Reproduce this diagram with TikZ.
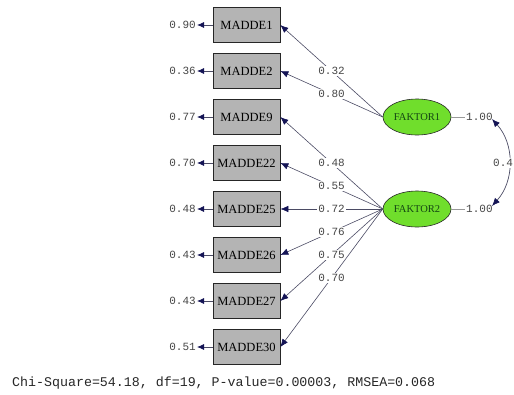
\documentclass[tikz,border=0pt]{standalone}
\usepackage{fontspec}
\setmainfont{Liberation Serif}
\setmonofont{Liberation Mono}
\usetikzlibrary{arrows.meta,shapes.geometric}
\definecolor{boxgray}{RGB}{180,180,180}
\definecolor{facgreen}{RGB}{112,222,44}
\definecolor{factext}{RGB}{20,70,20}
\definecolor{numgray}{RGB}{70,70,70}
\definecolor{linecol}{RGB}{75,75,100}
\definecolor{tipcol}{RGB}{20,20,85}
\tikzset{
  obsbox/.style={draw=black!85, line width=0.7pt, fill=boxgray, minimum width=67pt, minimum height=35pt, inner sep=0pt, font=\fontsize{12.5}{14}\selectfont},
  facnode/.style={ellipse, draw=black!85, line width=0.6pt, fill=facgreen, minimum width=68pt, minimum height=36pt, inner sep=0pt, text=factext, font=\fontsize{10.5}{12}\selectfont},
  numlab/.style={fill=white, inner sep=1pt, text=numgray, font=\ttfamily\fontsize{11}{12}\selectfont},
  loadline/.style={draw=linecol, line width=0.6pt, -{Latex[length=8pt,width=6.5pt,color=tipcol]}},
  errline/.style={draw=linecol, line width=0.8pt, -{Latex[length=7pt,width=6pt,color=tipcol]}},
  varline/.style={draw=gray!80, line width=0.5pt},
  covline/.style={draw=linecol, line width=0.7pt, {Latex[length=8pt,width=6.5pt,color=tipcol]}-{Latex[length=8pt,width=6.5pt,color=tipcol]}}
}
\begin{document}
\begin{tikzpicture}[x=1pt,y=-1pt]
\useasboundingbox (0,0) rectangle (514,394);
% observed variables
\node[obsbox] (m1)  at (246.5,25)  {MADDE1};
\node[obsbox] (m2)  at (246.5,71)  {MADDE2};
\node[obsbox] (m9)  at (246.5,117) {MADDE9};
\node[obsbox] (m22) at (246.5,163) {MADDE22};
\node[obsbox] (m25) at (246.5,209) {MADDE25};
\node[obsbox] (m26) at (246.5,255) {MADDE26};
\node[obsbox] (m27) at (246.5,301) {MADDE27};
\node[obsbox] (m30) at (246.5,347) {MADDE30};
% error variances
\node[numlab, anchor=east] (e1)  at (197,25)  {0.90};
\node[numlab, anchor=east] (e2)  at (197,71)  {0.36};
\node[numlab, anchor=east] (e9)  at (197,117) {0.77};
\node[numlab, anchor=east] (e22) at (197,163) {0.70};
\node[numlab, anchor=east] (e25) at (197,209) {0.48};
\node[numlab, anchor=east] (e26) at (197,255) {0.43};
\node[numlab, anchor=east] (e27) at (197,301) {0.43};
\node[numlab, anchor=east] (e30) at (197,347) {0.51};
\foreach \m in {1,2,9,22,25,26,27,30}{
  \draw[errline] (m\m.west) -- (e\m.east);
}
% factors
\node[facnode] (f1) at (417,117) {FAKTOR1};
\node[facnode] (f2) at (417,209) {FAKTOR2};
% loadings
\draw[loadline] (f1.west) -- node[numlab]{0.32} (m1.east);
\draw[loadline] (f1.west) -- node[numlab]{0.80} (m2.east);
\draw[loadline] (f2.west) -- node[numlab]{0.48} (m9.east);
\draw[loadline] (f2.west) -- node[numlab]{0.55} (m22.east);
\draw[loadline] (f2.west) -- node[numlab]{0.72} (m25.east);
\draw[loadline] (f2.west) -- node[numlab]{0.76} (m26.east);
\draw[loadline] (f2.west) -- node[numlab]{0.75} (m27.east);
\draw[loadline] (f2.west) -- node[numlab]{0.70} (m30.east);
% factor variances
\node[numlab, anchor=west] (v1) at (465,117) {1.00};
\node[numlab, anchor=west] (v2) at (465,209) {1.00};
\draw[varline] (f1.east) -- (v1.west);
\draw[varline] (f2.east) -- (v2.west);
% covariance
\coordinate (c1) at (492,119);
\coordinate (c2) at (492,206);
\draw[covline] (c1) to[bend left=42] (c2);
\node[numlab, anchor=west] (cov) at (492,163) {0.4};
% fit statistics
\node[anchor=west, inner sep=0pt, text=black!85, font=\ttfamily\fontsize{13.3}{15}\selectfont] (fit) at (12,383) {Chi-Square=54.18, df=19, P-value=0.00003, RMSEA=0.068};
\end{tikzpicture}
\end{document}
